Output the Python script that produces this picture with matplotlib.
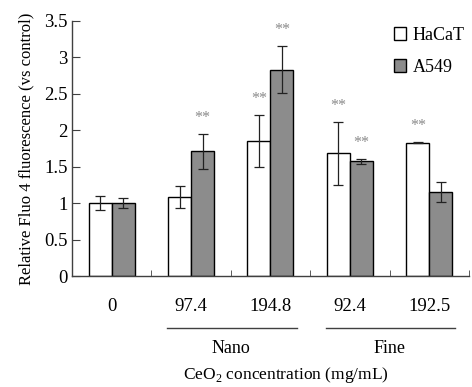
import numpy as np
import matplotlib.pyplot as plt
from matplotlib.patches import Patch
from matplotlib.transforms import blended_transform_factory

plt.rcParams['font.family'] = ['Liberation Serif', 'DejaVu Serif']
plt.rcParams['mathtext.fontset'] = 'custom'
plt.rcParams['mathtext.rm'] = 'Liberation Serif'

# data
concentrations = ['0', '97.4', '194.8', '92.4', '192.5']
hacat_mean = [1.00, 1.08, 1.85, 1.68, 1.83]
hacat_err = [0.09, 0.15, 0.36, 0.43, 0.01]
a549_mean = [1.00, 1.71, 2.83, 1.57, 1.15]
a549_err = [0.07, 0.24, 0.32, 0.04, 0.14]
hacat_sig = [False, False, True, True, True]
a549_sig = [False, True, True, True, False]
groups = [('Nano', 1, 2), ('Fine', 3, 4)]

fig = plt.figure(figsize=(4.72, 3.87), dpi=100)
ax = fig.add_axes([0.1525, 0.2868, 0.841, 0.6597])

x = np.arange(len(concentrations))
w = 0.29
ax.bar(x - w / 2, hacat_mean, w, color='white', edgecolor='black', linewidth=1.0)
ax.bar(x + w / 2, a549_mean, w, color='#8c8c8c', edgecolor='black', linewidth=1.0)
ax.errorbar(x - w / 2, hacat_mean, yerr=hacat_err, fmt='none', ecolor='#222222',
            elinewidth=0.9, capsize=3.5, capthick=0.9)
ax.errorbar(x + w / 2, a549_mean, yerr=a549_err, fmt='none', ecolor='#222222',
            elinewidth=0.9, capsize=3.5, capthick=0.9)

# significance marks
for xi, m, e, s in zip(x - w / 2, hacat_mean, hacat_err, hacat_sig):
    if s:
        ax.text(xi, m + e + 0.22, '**', ha='center', va='center', fontsize=11.5, color='#8a8a8a')
for xi, m, e, s in zip(x + w / 2, a549_mean, a549_err, a549_sig):
    if s:
        ax.text(xi, m + e + 0.22, '**', ha='center', va='center', fontsize=11.5, color='#8a8a8a')

ax.set_xlim(-0.5, len(concentrations) - 0.5)
ax.set_ylim(0, 3.5)
ax.set_yticks(np.arange(0, 3.51, 0.5))
ax.set_yticklabels(['0', '0.5', '1', '1.5', '2', '2.5', '3', '3.5'])
ax.set_xticks(x)
ax.set_xticklabels(concentrations)
ax.set_xticks(np.arange(0.5, len(concentrations), 1), minor=True)
ax.tick_params(axis='x', which='major', length=0, pad=16, labelsize=13.5)
ax.tick_params(axis='x', which='minor', direction='in', length=4, color='#404040')
ax.tick_params(axis='y', direction='in', length=6, pad=3, labelsize=13.5, color='#404040')

for side in ['top', 'right']:
    ax.spines[side].set_visible(False)
for side in ['left', 'bottom']:
    ax.spines[side].set_color('#404040')
    ax.spines[side].set_linewidth(1.0)

ax.set_ylabel('Relative Fluo 4 fluorescence (vs control)', fontsize=12, labelpad=7)

trans = blended_transform_factory(ax.transData, ax.transAxes)
for name, g0, g1 in groups:
    ax.plot([g0 - 0.3, g1 + 0.33], [-0.204, -0.204], color='#404040', lw=1.0,
            transform=trans, clip_on=False)
    ax.text((g0 + g1) / 2, -0.285, name, ha='center', va='center', fontsize=13, transform=trans)

ax.text(0.54, -0.388, 'CeO$_2$ concentration (mg/mL)', ha='center', va='center',
        fontsize=12.5, transform=ax.transAxes)

handles = [Patch(facecolor='white', edgecolor='black', label='HaCaT'),
           Patch(facecolor='#8c8c8c', edgecolor='black', label='A549')]
ax.legend(handles=handles, loc='upper right', bbox_to_anchor=(1.03, 1.04), frameon=False,
          fontsize=13, handlelength=0.7, handleheight=0.7, handletextpad=0.35,
          labelspacing=0.85)

fig.savefig('out.png', dpi=100)
